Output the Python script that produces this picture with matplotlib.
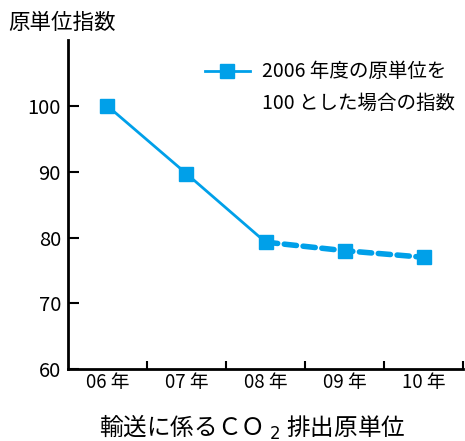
import matplotlib
matplotlib.use('Agg')
import matplotlib.pyplot as plt
from matplotlib.lines import Line2D

plt.rcParams['font.family'] = ['Noto Sans CJK JP', 'DejaVu Sans']

years = ['06 年', '07 年', '08 年', '09 年', '10 年']
index_values = [100, 89.7, 79.3, 78.0, 77.0]
yticks = [60, 70, 80, 90, 100]
legend_lines = ['2006 年度の原単位を', '100 とした場合の指数']

blue = '#00a0e9'

fig = plt.figure(figsize=(4.65, 4.41), dpi=100)
ax = fig.add_axes((0.146, 0.163, 0.85, 0.746))

x = list(range(len(years)))
# solid part 06-08, dashed part 08-10
ax.plot(x[:3], index_values[:3], color=blue, lw=2, zorder=2)
ax.plot(x[2:], index_values[2:], color=blue, lw=4, ls=(0, (2.2, 1.2)),
        dash_capstyle='round', zorder=2)
ax.plot(x, index_values, ls='none', marker='s', ms=10.5, color=blue, zorder=3)

ax.set_xlim(-0.5, len(years) - 0.5)
ax.set_ylim(60, 110)
ax.set_yticks(yticks)
ax.set_yticklabels([str(v) for v in yticks], fontsize=14.5)
ax.set_xticks([i + 0.5 for i in range(len(years))])
ax.set_xticklabels([])
ax.set_xticks(x, minor=True)
ax.set_xticklabels(years, minor=True, fontsize=13.5)
ax.tick_params(axis='x', which='minor', length=0, pad=2)
ax.tick_params(axis='x', which='major', direction='in', length=6, width=1.5)
ax.tick_params(axis='y', direction='in', length=8, width=1.5, pad=5)
ax.spines['top'].set_visible(False)
ax.spines['right'].set_visible(False)
for s in ('left', 'bottom'):
    ax.spines[s].set_linewidth(2)

fig.text(0.017, 0.948, '原単位指数', fontsize=15.5, ha='left', va='center')

# legend drawn by hand so the key sits on the first text line
fig.add_artist(Line2D([0.441, 0.538], [0.839, 0.839], color=blue, lw=2,
                      transform=fig.transFigure))
fig.add_artist(Line2D([0.489], [0.839], color=blue, marker='s', ms=10.5,
                      transform=fig.transFigure))
fig.text(0.563, 0.839, legend_lines[0], fontsize=14, ha='left', va='center')
fig.text(0.563, 0.766, legend_lines[1], fontsize=14, ha='left', va='center')

fig.text(0.543, 0.03, '輸送に係るＣＯ $_2$ 排出原単位', fontsize=17, ha='center', va='center')

fig.savefig('out.png', dpi=100)
